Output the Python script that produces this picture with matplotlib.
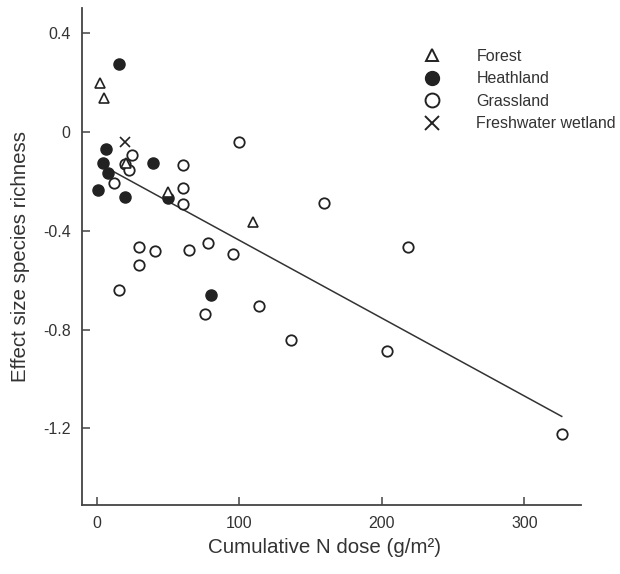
import matplotlib
matplotlib.use('Agg')
import matplotlib.pyplot as plt

plt.rcParams['font.family'] = ['Liberation Sans', 'DejaVu Sans']

# data
forest_x = [2.4, 4.7, 20.6, 49.9, 109.6]
forest_y = [0.198, 0.135, -0.128, -0.243, -0.366]

heath_x = [15.2, 6.6, 4.2, 39.6, 7.7, 0.7, 49.9, 19.5, 79.9]
heath_y = [0.275, -0.068, -0.126, -0.126, -0.169, -0.234, -0.270, -0.266, -0.660]

grass_x = [24.2, 19.5, 22.5, 60.0, 11.7, 60.0, 60.0, 100.0, 29.5, 40.8, 64.6,
           78.0, 95.6, 29.5, 15.7, 75.7, 113.6, 159.5, 218.0, 135.9, 203.5, 326.2]
grass_y = [-0.096, -0.132, -0.153, -0.136, -0.208, -0.226, -0.292, -0.043, -0.468, -0.481, -0.479,
           -0.449, -0.495, -0.539, -0.641, -0.737, -0.703, -0.290, -0.466, -0.842, -0.885, -1.221]

wet_x = [19.7]
wet_y = [-0.040]

# regression line
fit_intercept = -0.125
fit_slope = -0.003145
fit_range = [11.0, 326.3]

labels = ['Forest', 'Heathland', 'Grassland', 'Freshwater wetland']

col = '#222222'
fig = plt.figure(figsize=(6.2, 5.74), dpi=100)
ax = fig.add_axes([0.132, 0.120, 0.805, 0.866])

fit_y = [fit_intercept + fit_slope * v for v in fit_range]
ax.plot(fit_range, fit_y, '-', color='#333333', lw=1.1, zorder=1)

ax.plot(grass_x, grass_y, 'o', ms=7.5, mfc='white', mec=col, mew=1.3, ls='none', zorder=2)
ax.plot(heath_x, heath_y, 'o', ms=8, mfc=col, mec=col, ls='none', zorder=3)
ax.plot(forest_x, forest_y, '^', ms=6.5, mfc='white', mec=col, mew=1.2, ls='none', zorder=4)
ax.plot(wet_x, wet_y, 'x', ms=7.5, mec=col, mew=1.2, ls='none', zorder=4)

# proxy artists for the legend (bigger markers than in the plot)
h1, = ax.plot([], [], '^', ms=9, mfc='white', mec=col, mew=1.4, ls='none')
h2, = ax.plot([], [], 'o', ms=10, mfc=col, mec=col, ls='none')
h3, = ax.plot([], [], 'o', ms=10, mfc='white', mec=col, mew=1.4, ls='none')
h4, = ax.plot([], [], 'x', ms=10, mec=col, mew=1.4, ls='none')
leg = ax.legend([h1, h2, h3, h4], labels, loc='upper left', bbox_to_anchor=(0.685, 0.918),
                frameon=False, fontsize=11.5, handletextpad=2.3, labelspacing=0.47,
                handlelength=1.0, borderaxespad=0., borderpad=0.)
for t in leg.get_texts():
    t.set_color('#333333')

ax.set_xlim(-10.7, 339.8)
ax.set_ylim(-1.51, 0.5)
ax.set_xticks([0, 100, 200, 300])
ax.set_yticks([0.4, 0, -0.4, -0.8, -1.2])
ax.set_yticklabels(['0.4', '0', '-0.4', '-0.8', '-1.2'])

for s in ['top', 'right']:
    ax.spines[s].set_visible(False)
for s in ['left', 'bottom']:
    ax.spines[s].set_color('#444444')
    ax.spines[s].set_linewidth(1.3)
ax.tick_params(direction='in', length=6, width=1.1, color='#444444', labelsize=11.5,
               labelcolor='#333333', pad=8)

ax.set_xlabel('Cumulative N dose (g/m²)', fontsize=14.8, color='#333333', labelpad=7)
ax.set_ylabel('Effect size species richness', fontsize=14.8, color='#333333', labelpad=9)
ax.xaxis.set_label_coords(0.486, -0.066)

fig.savefig('out.png', dpi=100)
